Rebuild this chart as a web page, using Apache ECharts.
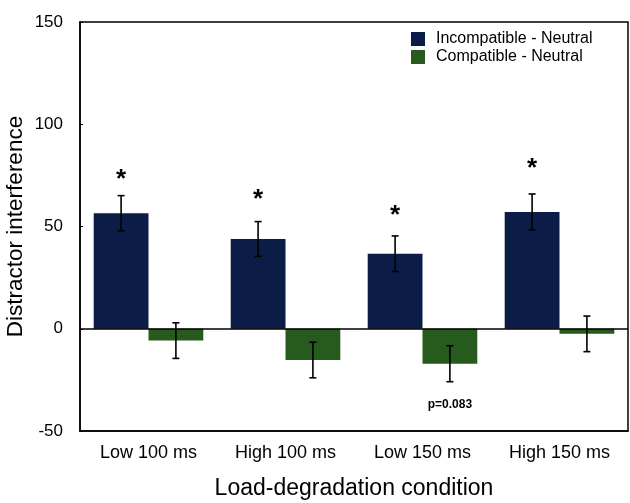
<!DOCTYPE html>
<html>
<head>
<meta charset="utf-8">
<script src="https://cdn.jsdelivr.net/npm/echarts@6/dist/echarts.min.js"></script>
<style>html,body{margin:0;padding:0;background:#fff;}#c{width:630px;height:503px;}</style>
</head>
<body>
<div id="c"></div>
<script>
const categories = ['Low 100 ms', 'High 100 ms', 'Low 150 ms', 'High 150 ms'];
const seriesNames = ['Incompatible - Neutral', 'Compatible - Neutral'];
const incompatible = [56.5, 43.9, 36.7, 57.1];
const incompatibleErr = [8.6, 8.5, 8.7, 8.8];
const compatible = [-5.8, -15.3, -17.1, -2.5];
const compatibleErr = [8.7, 8.7, 8.8, 8.7];
const starY = [76, 66, 58, 81];          // asterisk annotation heights (incompatible bars)
const noteText = ['', '', 'p=0.083', '']; // annotation under compatible bars
const noteY = -37;
const yTicks = { min: -50, max: 150, interval: 50 };

const colors = ['#0b1d47', '#275a1d'];
const font = 'Liberation Sans, Arial, Helvetica, sans-serif';

const errData = [];
categories.forEach((c, i) => {
  errData.push([i, incompatible[i], incompatibleErr[i], 0]);
  errData.push([i, compatible[i], compatibleErr[i], 1]);
});

function renderErr(params, api) {
  const cat = api.value(0), mean = api.value(1), err = api.value(2), g = api.value(3);
  const bw = api.size([1, 0])[0] * 0.8 / 2;
  const cx = api.coord([cat, mean])[0] + (g === 0 ? -bw / 2 : bw / 2);
  const yt = api.coord([cat, mean + err])[1];
  const yb = api.coord([cat, mean - err])[1];
  const st = { stroke: '#000', lineWidth: 1.6 };
  const cap = 3.5;
  const children = [
    { type: 'line', shape: { x1: cx, y1: yt, x2: cx, y2: yb }, style: st },
    { type: 'line', shape: { x1: cx - cap, y1: yt, x2: cx + cap, y2: yt }, style: st },
    { type: 'line', shape: { x1: cx - cap, y1: yb, x2: cx + cap, y2: yb }, style: st }
  ];
  if (g === 0) {
    const sy = api.coord([cat, starY[cat]])[1];
    children.push({ type: 'text', style: { x: cx, y: sy + 6, text: '*', fill: '#000',
      font: 'bold 26px ' + font, align: 'center', verticalAlign: 'middle' } });
  } else if (noteText[cat]) {
    const ny = api.coord([cat, noteY])[1];
    children.push({ type: 'text', style: { x: cx, y: ny, text: noteText[cat], fill: '#000',
      font: 'bold 12px ' + font, align: 'center', verticalAlign: 'middle' } });
  }
  return { type: 'group', children };
}

const chart = echarts.init(document.getElementById('c'), null, { renderer: 'canvas' });
chart.setOption({
  animation: false,
  backgroundColor: '#fff',
  grid: { left: 80, right: 2, top: 22, bottom: 72, show: true, borderColor: '#000', borderWidth: 1.5,
    backgroundColor: 'transparent', containLabel: false, outerBoundsMode: 'none' },
  legend: {
    orient: 'vertical', left: 411, top: 31, padding: 0, itemWidth: 14, itemHeight: 14, itemGap: 2,
    icon: 'rect',
    textStyle: { fontFamily: font, fontSize: 16, color: '#000', padding: [0, 0, 0, 6] },
    data: seriesNames
  },
  xAxis: {
    type: 'category', data: categories,
    axisLine: { show: true, onZero: false, lineStyle: { color: '#000', width: 1.5 } },
    axisTick: { show: false },
    axisLabel: { fontFamily: font, fontSize: 18, color: '#000', margin: 13 },
    name: 'Load-degradation condition', nameLocation: 'middle', nameGap: 46, nameMoveOverlap: false,
    nameTextStyle: { fontFamily: font, fontSize: 23, color: '#000' }
  },
  yAxis: {
    type: 'value', min: yTicks.min, max: yTicks.max, interval: yTicks.interval,
    axisLine: { show: true, lineStyle: { color: '#000', width: 1.5 } },
    axisTick: { show: true, inside: true, length: 3, lineStyle: { color: '#000' } },
    splitLine: { show: false },
    axisLabel: { fontFamily: font, fontSize: 17, color: '#000', margin: 17 },
    name: 'Distractor interference', nameLocation: 'middle', nameGap: 53, nameMoveOverlap: false,
    nameTextStyle: { fontFamily: font, fontSize: 22.5, color: '#000' }
  },
  series: [
    { name: seriesNames[0], type: 'bar', data: incompatible, barGap: '0%', barCategoryGap: '20%',
      itemStyle: { color: colors[0] },
      markLine: { silent: true, symbol: 'none', label: { show: false },
        lineStyle: { color: '#000', width: 1.5, type: 'solid' }, data: [{ yAxis: 0 }] } },
    { name: seriesNames[1], type: 'bar', data: compatible, barGap: '0%', barCategoryGap: '20%',
      itemStyle: { color: colors[1] } },
    { type: 'custom', renderItem: renderErr, data: errData, z: 10, silent: true,
      encode: { x: 0, y: 1 } }
  ]
});
</script>
</body>
</html>
